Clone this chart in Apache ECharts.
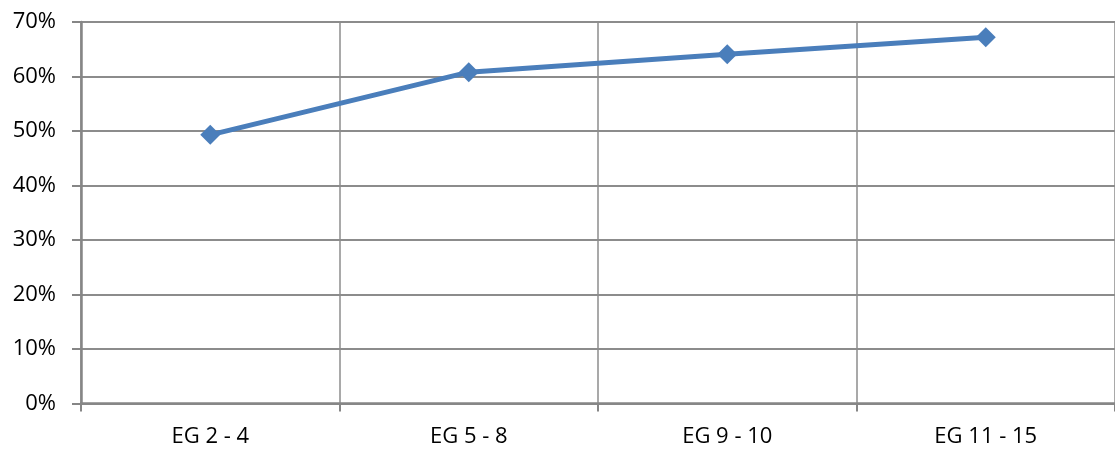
<!DOCTYPE html>
<html>
<head>
<meta charset="utf-8">
<style>
  html, body { margin: 0; padding: 0; background: #fff; }
  #chart { width: 1115px; height: 450px; }
</style>
<script src="https://cdn.jsdelivr.net/npm/echarts@6/dist/echarts.min.js"></script>
</head>
<body>
<div id="chart"></div>
<script>
// Share by employee group
const categories = ['EG 2 - 4', 'EG 5 - 8', 'EG 9 - 10', 'EG 11 - 15'];
const shareValues = [0.493, 0.608, 0.641, 0.672];
const yTicks = { min: 0, max: 0.7, interval: 0.1 };

const gridColor = '#8c8c8c';
const axisColor = '#868686';
const font = '"Open Sans", "Liberation Sans", sans-serif';

const chart = echarts.init(document.getElementById('chart'), null, { renderer: 'canvas' });
chart.setOption({
  animation: false,
  grid: { left: 81, right: -3, top: 22, bottom: 46.5, containLabel: false },
  xAxis: {
    type: 'category',
    data: categories,
    boundaryGap: true,
    axisLine: { lineStyle: { color: axisColor, width: 2.5 } },
    axisTick: { show: true, length: 8, alignWithLabel: false, lineStyle: { color: axisColor, width: 2 } },
    axisLabel: { color: '#000', fontSize: 22, fontFamily: font, margin: 22 },
    splitLine: { show: true, lineStyle: { color: gridColor, width: 1.5 } }
  },
  yAxis: {
    type: 'value',
    min: yTicks.min,
    max: yTicks.max,
    interval: yTicks.interval,
    axisLine: { show: true, lineStyle: { color: axisColor, width: 2.5 } },
    axisTick: { show: true, length: 9, lineStyle: { color: axisColor, width: 2 } },
    axisLabel: {
      color: '#000', fontSize: 22, fontFamily: font, margin: 25,
      formatter: v => Math.round(v * 100) + '%'
    },
    splitLine: { show: true, lineStyle: { color: gridColor, width: 2 } }
  },
  series: [{
    type: 'line',
    data: shareValues,
    symbol: 'diamond',
    symbolSize: 20,
    lineStyle: { color: '#4a7ebb', width: 5 },
    itemStyle: { color: '#4a7ebb' }
  }]
});
</script>
</body>
</html>
